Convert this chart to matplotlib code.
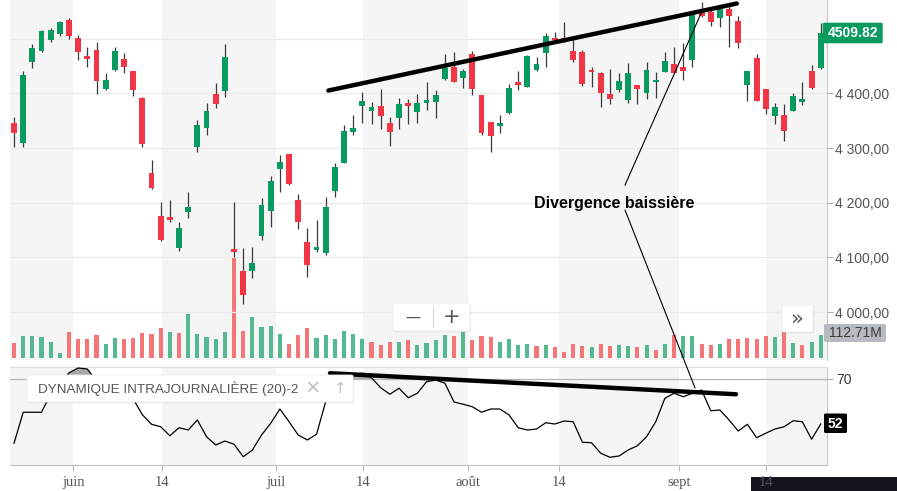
import matplotlib
matplotlib.use("Agg")
import matplotlib.pyplot as plt
import numpy as np
from matplotlib.patches import FancyBboxPatch, Rectangle, ConnectionPatch

# ---------------- data ----------------
opens = [4345, 4310, 4458, 4478, 4497.5, 4508, 4534, 4502, 4468, 4479,
         4407, 4443, 4463, 4440, 4392, 4255, 4176, 4173.5, 4118, 4182.5,
         4302.5, 4337, 4398, 4405, 4115.5, 4075, 4076, 4140, 4184, 4262,
         4289, 4205, 4127.5, 4113.5, 4107.5, 4222, 4273, 4330, 4377.5, 4368,
         4377, 4345, 4354, 4381.5, 4365, 4383, 4385, 4425.5, 4448.5, 4428.5,
         4472, 4397, 4347, 4341, 4363.5, 4420, 4412, 4442.5, 4473, 4500.5,
         4502, 4477.5, 4475, 4442.5, 4438, 4398, 4406, 4388, 4415, 4400,
         4420, 4439.5, 4453, 4447.5, 4461, 4546, 4549, 4537, 4553.5, 4532,
         4415, 4464, 4407, 4359, 4360.5, 4368.5, 4383.5, 4441, 4445.5]
highs = [4357, 4441, 4491, 4516, 4519, 4532, 4537, 4507, 4485, 4493,
         4437, 4485, 4473, 4441, 4393, 4278, 4201, 4205, 4164, 4220,
         4351, 4383, 4418, 4491, 4201, 4117, 4118.5, 4208, 4249.5, 4287,
         4289.5, 4216, 4153, 4168.5, 4210, 4272, 4343, 4360.5, 4403, 4383.5,
         4407, 4357, 4391, 4389.5, 4398, 4421, 4406, 4471, 4475, 4444,
         4478, 4397.5, 4348, 4360.5, 4417, 4441.5, 4469.5, 4466, 4509.5, 4511.5,
         4530, 4498.5, 4479, 4448.5, 4438.5, 4444, 4438, 4455, 4416, 4456.5,
         4438.5, 4475, 4485, 4491.5, 4546, 4567.5, 4552.5, 4558.5, 4561.5, 4541.5,
         4441, 4472, 4407.5, 4381.5, 4380, 4400, 4421.5, 4452, 4529]
lows = [4302, 4302, 4446, 4476, 4494.5, 4505, 4499, 4461, 4447.5, 4398,
        4406, 4441, 4436.5, 4396, 4302.5, 4226, 4129.5, 4164, 4112, 4171.5,
        4293.5, 4324, 4372.5, 4393, 4101, 4014, 4062, 4131, 4156, 4219,
        4233, 4151.5, 4063.5, 4110.5, 4104.5, 4210, 4272, 4324, 4346.5, 4343.5,
        4334, 4304.5, 4334, 4343.5, 4346.5, 4369.5, 4354.5, 4424.5, 4421, 4409,
        4397, 4324, 4293.5, 4327, 4362, 4406, 4411, 4441.5, 4447.5, 4496,
        4494.5, 4458, 4413.5, 4412, 4375.5, 4380.5, 4403, 4383, 4380.5, 4389.5,
        4391, 4439.5, 4438, 4424.5, 4447.5, 4540, 4523, 4520.5, 4485.5, 4482.5,
        4386.5, 4386, 4361.5, 4343.5, 4313, 4367.5, 4378.5, 4408, 4444]
closes = [4327, 4433.5, 4482, 4514, 4516, 4530, 4505, 4476, 4463.5, 4423,
          4424.5, 4477.5, 4449, 4406, 4307, 4227.5, 4131, 4168.5, 4153, 4193,
          4342, 4367.5, 4380.5, 4466, 4109.5, 4031.5, 4089.5, 4196, 4240, 4274,
          4234, 4165.5, 4086, 4118.5, 4191.5, 4264.5, 4331, 4336.5, 4386, 4375,
          4359, 4330, 4380.5, 4377.5, 4381.5, 4388, 4397, 4445.5, 4421.5, 4441,
          4408, 4327, 4322.5, 4346, 4409, 4415, 4468, 4453, 4505, 4497.5,
          4496, 4461, 4417, 4438.5, 4401, 4389.5, 4422.5, 4438, 4407.5, 4442.5,
          4424.5, 4459, 4438, 4440, 4543, 4541.5, 4531, 4553.5, 4542, 4491.5,
          4441, 4386.5, 4371, 4375.5, 4331.5, 4395, 4389.5, 4409, 4509.82]
volumes_m = [75.8, 108.1, 108.1, 103.3, 80.7, 27.4, 127.5, 93.6, 93.6, 112.9,
             69.4, 98.4, 93.6, 98.4, 124.2, 119.4, 146.8, 127.5, 124.2, 214.6,
             119.4, 103.3, 93.6, 127.5, 484.0, 133.9, 200.1, 153.3, 156.5, 119.4,
             69.4, 112.9, 146.8, 98.4, 112.9, 93.6, 133.9, 119.4, 93.6, 80.7,
             64.5, 80.7, 80.7, 88.7, 64.5, 75.8, 88.7, 112.9, 108.1, 127.5,
             88.7, 108.1, 103.3, 80.7, 93.6, 64.5, 69.4, 59.7, 64.5, 54.8,
             32.3, 69.4, 59.7, 54.8, 69.4, 59.7, 62.0, 59.7, 54.8, 64.5,
             40.3, 69.4, 112.9, 108.1, 108.1, 69.4, 64.5, 69.4, 93.6, 93.6,
             98.4, 93.6, 108.1, 103.3, 142.0, 75.8, 64.5, 80.7, 112.71]
imi = [44.3, 56.7, 56.7, 56.7, 64, 68, 72.5, 74.4, 74, 69,
       66, 66, 64, 62, 55.7, 51.9, 50.9, 47.3, 50.5, 49.6,
       53.6, 46.9, 43.6, 45.2, 43.9, 38.9, 41.6, 47.6, 52.3, 58.0,
       52.9, 47.6, 45.6, 47.9, 61, 66, 70, 72, 72.3, 70.5,
       66.5, 63.9, 66.3, 62.5, 64.3, 68.9, 69.6, 68.3, 60.8, 59.9,
       58.9, 56.7, 58.0, 58.0, 55.6, 50.5, 49.6, 50.0, 52.5, 52.0,
       53.2, 52.9, 44.7, 44.5, 40.3, 38.7, 39.2, 41.6, 43.3, 46.9,
       52.9, 62.3, 64.3, 62.9, 64.3, 65.6, 57.3, 57.6, 53.6, 49.2,
       51.9, 46.5, 48.3, 50.0, 50.9, 53.3, 52.9, 45.9, 52.0]

month_labels = ["juin", "14", "juil", "14", "août", "14", "sept", "14"]
month_pos = [6.47, 16.11, 28.58, 38.04, 49.49, 59.49, 72.58, 82.03]
price_ticks = [4000, 4100, 4200, 4300, 4400, 4500]
hidden_tick = 4500          # its label sits under the last-price badge
osc_level = 70

# trend / annotation lines (bar index, value)
price_trend_x = [34.29, 78.84]
price_trend_y = [4405.1, 4564.2]
osc_trend_x = [34.47, 78.76]
osc_trend_y = [72.3, 63.9]
note_text = "Divergence baissière"
note_xy = (65.43, 4199)
note_up = ((66.65, 4232.4), (74.94, 4546.2))
note_down = ((66.65, 4186.7), (74.29, 66.4))

# ---------------- style ----------------
UP = "#089a5e"
DOWN = "#f23645"
VUP = "#55b98f"
VDOWN = "#f47676"
BAND = "#f5f5f5"
GRID = "#ebebeb"
TXT = "#555555"

W, H = 897, 491
fig = plt.figure(figsize=(W / 100, H / 100), dpi=100)
fig.patch.set_facecolor("white")


def fx(px):
    return px / W


def fy(py):
    return 1 - py / H


XL, XR = 10, 826.7
ax = fig.add_axes([fx(XL), fy(360), fx(XR - XL), 360 / H])
axv = ax.twinx()
axo = fig.add_axes([fx(XL), fy(465), fx(XR - XL), (465 - 366.7) / H], sharex=ax)

o = np.array(opens)
h = np.array(highs)
l = np.array(lows)
c = np.array(closes)
v = np.array(volumes_m)
n = len(c)
x = np.arange(n)
xlim = (-0.44, 88.65)

# layering: price on top of volume
ax.set_zorder(axv.get_zorder() + 1)
ax.patch.set_visible(False)

edges = [xlim[0]] + month_pos + [xlim[1]]
for k in range(len(edges) - 1):
    if k % 2 == 0:
        axv.axvspan(edges[k], edges[k + 1], color=BAND, lw=0, zorder=0)
        axo.axvspan(edges[k], edges[k + 1], color=BAND, lw=0, zorder=0)

# volume
vdir = np.empty(n, dtype=bool)
vdir[0] = c[0] >= o[0]
vdir[1:] = c[1:] >= c[:-1]
axv.bar(x, v, width=0.45, color=[VUP if d else VDOWN for d in vdir], zorder=2)
axv.set_ylim(-1.7 * 4.84, 358.3 * 4.84)
axv.set_yticks([])
for s in axv.spines.values():
    s.set_visible(False)

# price
for t in price_ticks:
    ax.axhline(t, color=GRID, lw=0.9, zorder=1)
up = c >= o
cols = [UP if u else DOWN for u in up]
ax.vlines(x, l, h, color="#3a3a3a", lw=0.9, zorder=3)
body_lo = np.minimum(o, c)
body_h = np.maximum(np.abs(c - o), 2.5)
ax.bar(x, body_h, bottom=body_lo, width=0.64, color=cols, zorder=4)
ax.set_ylim(3912.5, 4570.6)
ax.set_xlim(*xlim)
ax.set_yticks(price_ticks)
ax.set_yticklabels(["" if t == hidden_tick else f"{t // 1000} {t % 1000:03d},00"
                    for t in price_ticks])
ax.yaxis.tick_right()
ax.tick_params(axis="y", right=True, left=False, labelright=True, length=4,
               width=0.8, color="#aaaaaa", labelcolor=TXT, labelsize=10, pad=2)
ax.tick_params(axis="x", bottom=False, labelbottom=False)
for lab in ax.get_yticklabels():
    lab.set_fontfamily("Liberation Sans")
for name, s in ax.spines.items():
    s.set_visible(name == "right")
ax.spines["right"].set_color("#c8c8c8")

ax.plot(price_trend_x, price_trend_y, color="black", lw=3.2,
        solid_capstyle="round", zorder=6)
ax.plot([note_up[0][0], note_up[1][0]], [note_up[0][1], note_up[1][1]],
        color="black", lw=0.8, zorder=6)
ax.text(note_xy[0], note_xy[1], note_text, ha="center", va="center",
        fontsize=11.5, fontweight="bold", family="Liberation Sans",
        color="black", zorder=7)

# oscillator
imi_a = np.array(imi)
axo.axhline(osc_level, color="#b5b5b5", lw=0.9, zorder=1)
axo.fill_between(x, imi_a, osc_level, where=imi_a > osc_level,
                 interpolate=True, color="#a8a8a8", lw=0, zorder=2)
axo.plot(x, imi_a, color="black", lw=0.9, zorder=3)
axo.plot(osc_trend_x, osc_trend_y, color="black", lw=3.2,
         solid_capstyle="round", zorder=6)
axo.set_ylim(35.6, 74.92)
axo.set_xlim(*xlim)
axo.set_yticks([osc_level])
axo.set_yticklabels([str(osc_level)])
axo.yaxis.tick_right()
axo.tick_params(axis="y", right=True, left=False, labelright=True, length=4,
                width=0.8, color="#aaaaaa", labelcolor="#333333", labelsize=10, pad=3)
for lab in axo.get_yticklabels():
    lab.set_fontfamily("Liberation Sans")
axo.set_xticks(month_pos)
axo.set_xticklabels(month_labels)
axo.tick_params(axis="x", length=4, width=0.8, color="#bbbbbb",
                labelcolor=TXT, labelsize=10.5, pad=4)
for lab in axo.get_xticklabels():
    lab.set_fontfamily("Liberation Serif")
axo.spines["left"].set_visible(False)
axo.spines["top"].set_color("#dedede")
axo.spines["right"].set_color("#c8c8c8")
axo.spines["bottom"].set_color("#c0c0c0")

con = ConnectionPatch(xyA=note_down[0], coordsA=ax.transData,
                      xyB=note_down[1], coordsB=axo.transData,
                      color="black", lw=0.8, zorder=8)
fig.add_artist(con)

# ---------------- overlays (UI widgets) ----------------
def pxbox(x0, y0, x1, y1, fc, ec="none", r=2, z=10, shadow=False):
    if shadow:
        fig.add_artist(FancyBboxPatch((fx(x0) + 0.0015, fy(y1) - 0.003),
                                      fx(x1 - x0), (y1 - y0) / H,
                                      boxstyle=f"round,pad=0,rounding_size={r / W}",
                                      fc="#000000", ec="none", alpha=0.06,
                                      transform=fig.transFigure, zorder=z - 0.1))
    b = FancyBboxPatch((fx(x0), fy(y1)), fx(x1 - x0), (y1 - y0) / H,
                       boxstyle=f"round,pad=0,rounding_size={r / W}",
                       fc=fc, ec=ec, lw=0.6, transform=fig.transFigure, zorder=z)
    fig.add_artist(b)


# indicator legend
pxbox(27, 375, 353, 402, "white", ec="#ececec", z=10, shadow=True)
fig.text(fx(38), fy(388.5), "DYNAMIQUE INTRAJOURNALIÈRE (20)-2", ha="left",
         va="center", fontsize=9.7, color=TXT, family="Liberation Sans", zorder=11)
fig.text(fx(313), fy(388.5), "×", ha="center", va="center", fontsize=14,
         color="#c0c0c0", family="DejaVu Sans", zorder=11)
fig.text(fx(340), fy(388.5), "↑", ha="center", va="center", fontsize=11,
         color="#c0c0c0", family="DejaVu Sans", zorder=11)

# zoom buttons
pxbox(393, 303, 470, 331, "white", ec="#eeeeee", z=10, shadow=True)
fig.add_artist(plt.Line2D([fx(433.3), fx(433.3)], [fy(307), fy(327)],
                          color="#d5d5d5", lw=0.8, transform=fig.transFigure, zorder=11))
fig.text(fx(413), fy(317), "—", ha="center", va="center", fontsize=11,
         color=TXT, family="DejaVu Sans", zorder=11)
fig.text(fx(452), fy(317), "+", ha="center", va="center", fontsize=15,
         color=TXT, family="DejaVu Sans", zorder=11)

pxbox(782, 305, 813, 332, "white", ec="#eeeeee", z=10, shadow=True)
fig.text(fx(797.5), fy(318), "»", ha="center", va="center", fontsize=15,
         color=TXT, family="DejaVu Sans", zorder=11)

# price labels on axis
pxbox(822.7, 22.7, 882.7, 43.3, UP, z=12, r=2)
fig.text(fx(852.7), fy(33), "4509.82", ha="center", va="center", fontsize=10,
         fontweight="bold", color="white", family="Liberation Sans", zorder=13)
pxbox(824, 324, 886, 342, "#b7bac1", z=12, r=2)
fig.text(fx(855), fy(333), "112.71M", ha="center", va="center", fontsize=10,
         color="#3c3c3c", family="Liberation Sans", zorder=13)
pxbox(824, 413.5, 847, 433, "black", z=12, r=2)
fig.text(fx(835.5), fy(423.5), "52", ha="center", va="center", fontsize=10,
         fontweight="bold", color="white", family="Liberation Sans", zorder=13)

# dark strip at bottom right (behind the axis labels)
fig.add_artist(Rectangle((fx(751), 0), fx(W - 751), 14 / H, fc="#14141e",
                         ec="none", transform=fig.transFigure, zorder=-1))

fig.savefig("out.png", dpi=100)
